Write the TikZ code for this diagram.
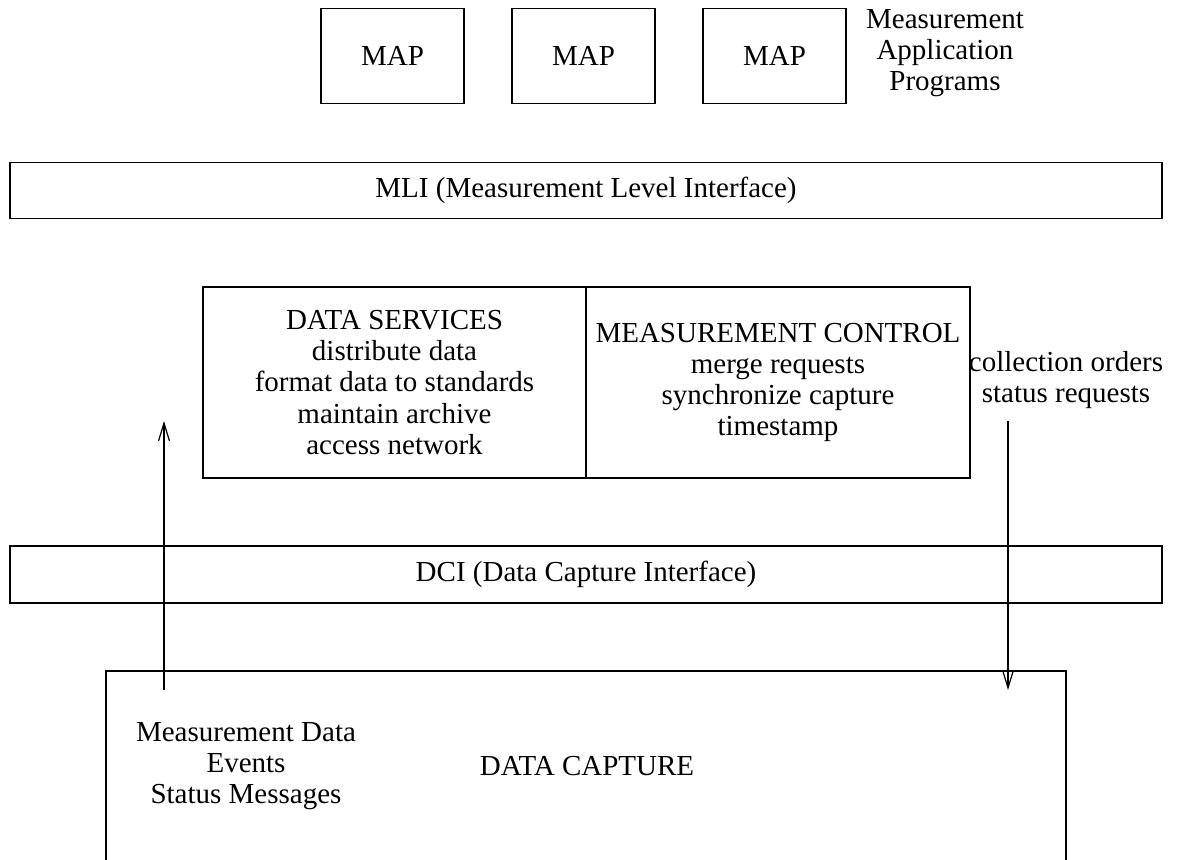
\documentclass[tikz,border=0pt]{standalone}
\usepackage{fontspec}
\setmainfont{Liberation Serif}
\usetikzlibrary{arrows.meta}

\begin{document}
\begin{tikzpicture}[x=0.5pt, y=-0.5pt,
    every node/.style={font=\fontsize{14.5}{15.6}\selectfont, align=center, inner sep=0pt},
    box/.style={draw, line width=0.6pt},
    flow/.style={line width=0.6pt, -{Straight Barb[length=9pt, width=5.5pt, line width=0.6pt]}}]
  \useasboundingbox (0,0) rectangle (1177,860);

  % Define nodes
  \node[box, minimum width=71.5pt, minimum height=47.5pt] (map1) at (392.5,56) {MAP};
  \node[box, minimum width=71.5pt, minimum height=47.5pt] (map2) at (583.5,56) {MAP};
  \node[box, minimum width=71.5pt, minimum height=47.5pt] (map3) at (774.5,56) {MAP};
  \node (progs) at (945,53) {Measurement\\Application\\Programs};

  \node[box, minimum width=576pt, minimum height=28pt] (mli) at (586,190.5)
    {MLI (Measurement Level Interface)};

  \node[box, minimum width=191.5pt, minimum height=95.5pt] (services) at (394.5,382.5)
    {DATA SERVICES\\distribute data\\format data to standards\\maintain archive\\access network};
  \node[box, minimum width=192pt, minimum height=95.5pt] (control) at (778,382.5)
    {MEASUREMENT CONTROL\\merge requests\\synchronize capture\\timestamp};
  \node (orders) at (1066,380) {collection orders\\status requests};

  \node[box, minimum width=576pt, minimum height=28.5pt] (dci) at (586,574.5)
    {DCI (Data Capture Interface)};

  \coordinate (capl) at (106,860);
  \coordinate (capr) at (1066,860);
  \draw[line width=0.6pt] (capl) |- (586,671) -| (capr);
  \node (capture) at (587,766) {DATA CAPTURE};
  \node (measdata) at (246,766) {Measurement Data\\Events\\Status Messages};

  % Connect the nodes
  \coordinate (upfrom) at (164,690);
  \coordinate (upto) at (164,421);
  \coordinate (dnfrom) at (1008,421);
  \coordinate (dnto) at (1008,690);
  \draw[flow] (upfrom) -- (upto);
  \draw[flow] (dnfrom) -- (dnto);

\end{tikzpicture}
\end{document}
